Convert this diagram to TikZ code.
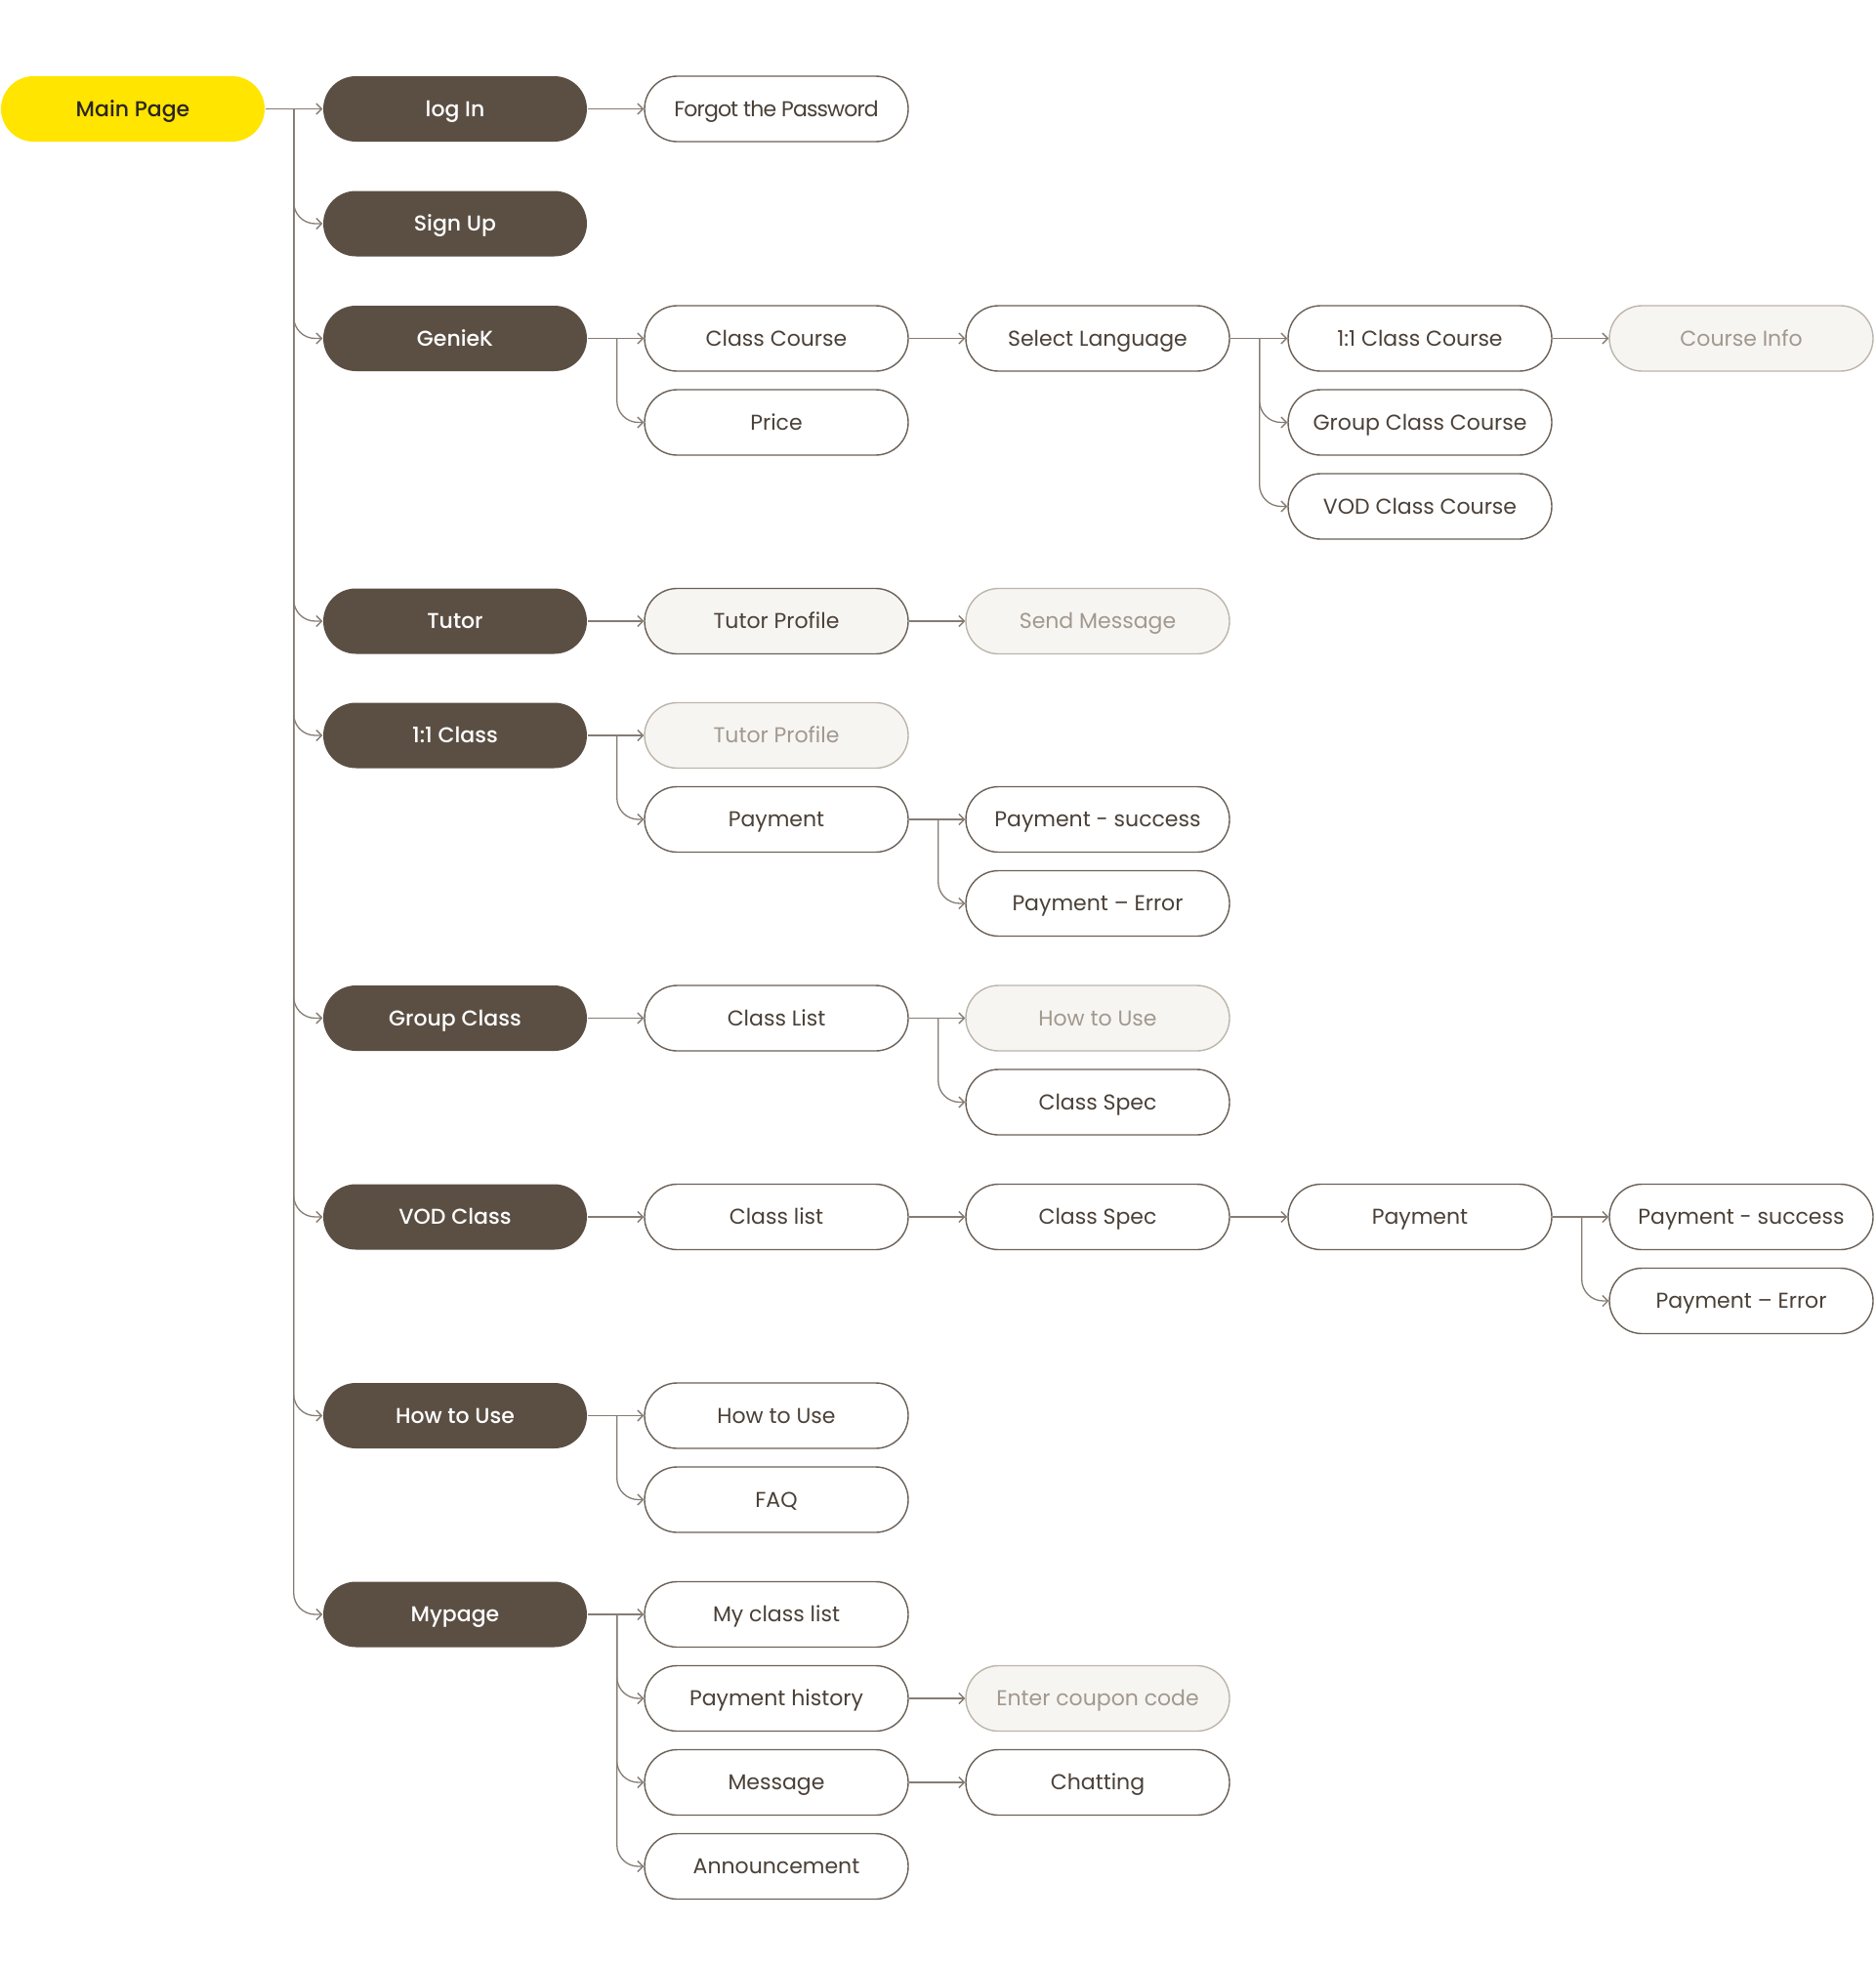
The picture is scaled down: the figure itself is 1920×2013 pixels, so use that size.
\documentclass[tikz,border=0pt]{standalone}
\usepackage{fontspec}
\setmainfont{Poppins}
\newfontfamily\pmed{Poppins Medium}
\newfontfamily\ptight{Poppins}[LetterSpace=-4]
\usetikzlibrary{arrows.meta,calc}
\definecolor{darkfill}{HTML}{5B4F44}
\definecolor{maintext}{HTML}{2B2620}
\definecolor{mainyellow}{HTML}{FFE500}
\definecolor{normtext}{HTML}{4A4037}
\definecolor{normborder}{HTML}{6B6158}
\definecolor{lightfill}{HTML}{F7F5F2}
\definecolor{lightborder}{HTML}{BDB5AB}
\definecolor{lighttext}{HTML}{A1988E}
\definecolor{linec}{HTML}{857C73}
\tikzset{
  box/.style={rectangle, rounded corners=33.5pt, minimum width=270pt, minimum height=67pt,
    inner sep=0pt, line width=1.4pt, text height=15.4pt, text depth=0pt,
    font=\fontsize{22}{26}\selectfont},
  mainbox/.style={box, fill=mainyellow, draw=none, text=maintext, font=\fontsize{22}{26}\pmed},
  darkbox/.style={box, fill=darkfill, draw=none, text=white, font=\fontsize{22}{26}\pmed},
  normbox/.style={box, fill=white, draw=normborder, text=normtext},
  lightbox/.style={box, fill=lightfill, draw=lightborder, text=lighttext},
  tpbox/.style={box, fill=lightfill, draw=normborder, text=normtext},
  conn/.style={draw=linec, line width=1.3pt, -{Straight Barb[length=5.5pt,width=11pt,line width=1.3pt]}},
  branch/.style={conn, rounded corners=22pt}
}
\begin{document}
\begin{tikzpicture}[x=1pt,y=-1pt]
\useasboundingbox (0,0) rectangle (1920,2013);
% columns: 136, 466, 795, 1124, 1454, 1783
% row 1
\node[mainbox] (main) at (136,111.5) {Main Page};
\node[darkbox] (login) at (466,111.5) {log In};
\node[normbox, font=\fontsize{22}{26}\ptight] (forgot) at (795,111.5) {Forgot the Password};
% row 2
\node[darkbox] (signup) at (466,229) {Sign Up};
% row 3
\node[darkbox] (geniek) at (466,346.5) {GenieK};
\node[normbox] (classcourse) at (795,346.5) {Class Course};
\node[normbox] (selectlang) at (1124,346.5) {Select Language};
\node[normbox] (onecc) at (1454,346.5) {1:1 Class Course};
\node[lightbox] (courseinfo) at (1783,346.5) {Course Info};
\node[normbox] (price) at (795,432.5) {Price};
\node[normbox] (groupcc) at (1454,432.5) {Group Class Course};
\node[normbox] (vodcc) at (1454,518.5) {VOD Class Course};
% row 4
\node[darkbox] (tutor) at (466,636) {Tutor};
\node[tpbox] (tutorprof) at (795,636) {Tutor Profile};
\node[lightbox] (sendmsg) at (1124,636) {Send Message};
% row 5
\node[darkbox] (oneclass) at (466,753) {1:1 Class};
\node[lightbox] (tutorprofb) at (795,753) {Tutor Profile};
\node[normbox] (payA) at (795,839) {Payment};
\node[normbox] (payAs) at (1124,839) {Payment - success};
\node[normbox] (payAe) at (1124,925) {Payment – Error};
% row 6
\node[darkbox] (groupclass) at (466,1042.5) {Group Class};
\node[normbox] (classlist) at (795,1042.5) {Class List};
\node[lightbox] (howtob) at (1124,1042.5) {How to Use};
\node[normbox] (classspec) at (1124,1128.5) {Class Spec};
% row 7
\node[darkbox] (vodclass) at (466,1246) {VOD Class};
\node[normbox] (vclasslist) at (795,1246) {Class list};
\node[normbox] (vclassspec) at (1124,1246) {Class Spec};
\node[normbox] (vpay) at (1454,1246) {Payment};
\node[normbox] (vpays) at (1783,1246) {Payment - success};
\node[normbox] (vpaye) at (1783,1332) {Payment – Error};
% row 8
\node[darkbox] (howto) at (466,1449.5) {How to Use};
\node[normbox] (howtoc) at (795,1449.5) {How to Use};
\node[normbox] (faq) at (795,1535.5) {FAQ};
% row 9
\node[darkbox] (mypage) at (466,1653) {Mypage};
\node[normbox] (myclass) at (795,1653) {My class list};
\node[normbox] (payhist) at (795,1739) {Payment history};
\node[lightbox] (coupon) at (1124,1739) {Enter coupon code};
\node[normbox] (message) at (795,1825) {Message};
\node[normbox] (chatting) at (1124,1825) {Chatting};
\node[normbox] (announce) at (795,1911) {Announcement};

% branch points
\coordinate (t0) at ($(main.east)+(29,0)$);
\coordinate (bg) at ($(geniek.east)+(30,0)$);
\coordinate (bs) at ($(selectlang.east)+(30,0)$);
\coordinate (bo) at ($(oneclass.east)+(30,0)$);
\coordinate (bp) at ($(payA.east)+(30,0)$);
\coordinate (bc) at ($(classlist.east)+(30,0)$);
\coordinate (bv) at ($(vpay.east)+(30,0)$);
\coordinate (bh) at ($(howto.east)+(30,0)$);
\coordinate (bm) at ($(mypage.east)+(30,0)$);

% trunk
\draw[conn] (main.east) -- (login.west);
\foreach \n in {signup,geniek,tutor,oneclass,groupclass,vodclass,howto,mypage}
  \draw[branch] (t0) |- (\n.west);

\draw[conn] (login.east) -- (forgot.west);
\draw[conn] (geniek.east) -- (classcourse.west);
\draw[branch] (bg) |- (price.west);
\draw[conn] (classcourse.east) -- (selectlang.west);
\draw[conn] (selectlang.east) -- (onecc.west);
\draw[branch] (bs) |- (groupcc.west);
\draw[branch] (bs) |- (vodcc.west);
\draw[conn] (onecc.east) -- (courseinfo.west);

\draw[conn] (tutor.east) -- (tutorprof.west);
\draw[conn] (tutorprof.east) -- (sendmsg.west);

\draw[conn] (oneclass.east) -- (tutorprofb.west);
\draw[branch] (bo) |- (payA.west);
\draw[conn] (payA.east) -- (payAs.west);
\draw[branch] (bp) |- (payAe.west);

\draw[conn] (groupclass.east) -- (classlist.west);
\draw[conn] (classlist.east) -- (howtob.west);
\draw[branch] (bc) |- (classspec.west);

\draw[conn] (vodclass.east) -- (vclasslist.west);
\draw[conn] (vclasslist.east) -- (vclassspec.west);
\draw[conn] (vclassspec.east) -- (vpay.west);
\draw[conn] (vpay.east) -- (vpays.west);
\draw[branch] (bv) |- (vpaye.west);

\draw[conn] (howto.east) -- (howtoc.west);
\draw[branch] (bh) |- (faq.west);

\draw[conn] (mypage.east) -- (myclass.west);
\draw[branch] (bm) |- (payhist.west);
\draw[branch] (bm) |- (message.west);
\draw[branch] (bm) |- (announce.west);
\draw[conn] (payhist.east) -- (coupon.west);
\draw[conn] (message.east) -- (chatting.west);
\end{tikzpicture}
\end{document}
